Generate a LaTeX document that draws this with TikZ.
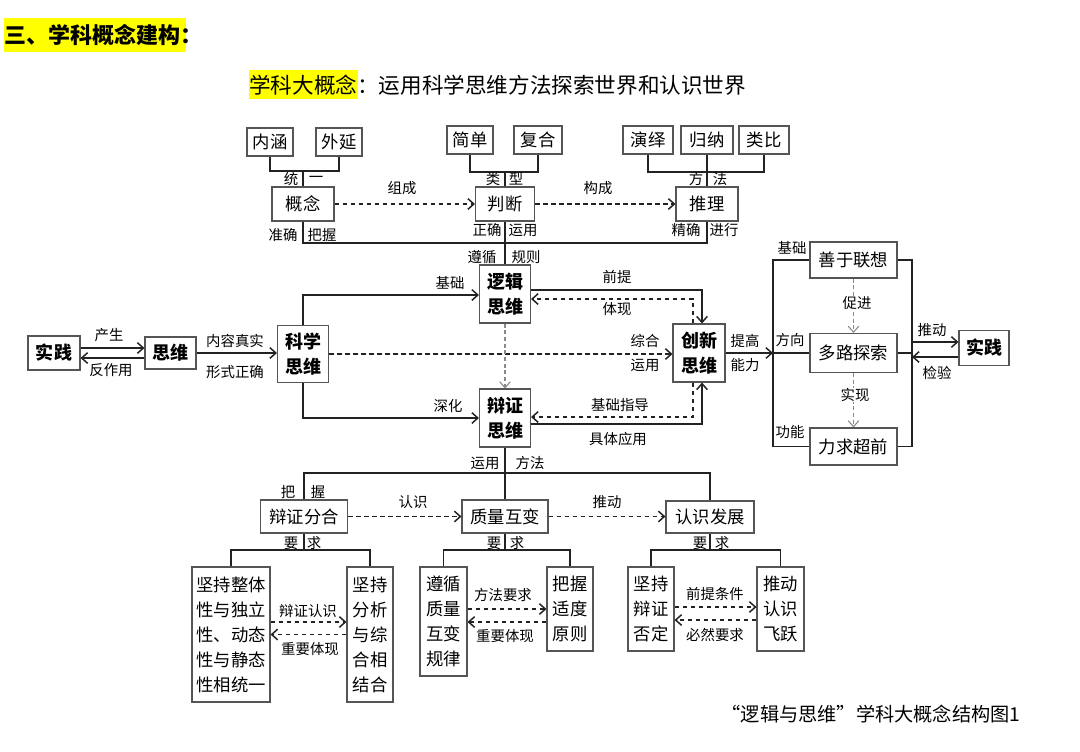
\documentclass[tikz,border=0pt]{standalone}
\usepackage{fontspec}
\setmainfont{Noto Sans CJK SC}
\usetikzlibrary{arrows.meta,calc}
\definecolor{boxc}{HTML}{555555}
\definecolor{lnc}{HTML}{222222}
\definecolor{hl}{HTML}{FFFF00}
\definecolor{gdash}{HTML}{8A8A8A}
\newcommand\bxf{\fontsize{13pt}{18.75pt}\selectfont}
\newcommand\bbf{\fontsize{13.5pt}{18.75pt}\selectfont\bfseries}
\newcommand\lbf{\fontsize{10.8pt}{12pt}\selectfont}
\newcommand\hdf{\fontsize{16.5pt}{18pt}\selectfont\bfseries}
\newcommand\ttlf{\fontsize{16.2pt}{18pt}\selectfont}
\newcommand\capf{\fontsize{14.4pt}{16pt}\selectfont}
\begin{document}
\begin{tikzpicture}[x=0.75pt,y=-0.75pt,
  ln/.style={draw=lnc, line width=1.1pt},
  ar/.style={ln, -{Straight Barb[length=4.5pt,width=8pt]}},
  dar/.style={ar, dash pattern=on 3.5pt off 2.5pt},
  gar/.style={draw=gdash, line width=0.8pt, dash pattern=on 3pt off 2pt, -{Straight Barb[length=4.5pt,width=8pt]}},
  box/.style={draw=boxc, line width=0.8pt, inner sep=0pt, align=center, font=\bxf, fill=white, text=black},
  bbox/.style={box, font=\bbf},
  sz/.style 2 args={minimum width=#1*0.75pt, minimum height=#2*0.75pt},
  lb/.style={inner sep=0.5pt, font=\lbf, text=black},
]
\useasboundingbox[fill=white] (0,0) rectangle (1080,751);

% header and title
\fill[hl] (4,18) rectangle (186,52);
\node[anchor=west, inner sep=0pt, font=\hdf] (hdr) at (4,35) {三、学科概念建构：};
\fill[hl] (249,70) rectangle (358,99);
\node[anchor=west, inner sep=0pt, font=\ttlf] (ttl) at (249,85) {学科大概念：运用科学思维方法探索世界和认识世界};

% top boxes
\node[box, sz={46}{28}] (nh) at (270,142) {内涵};
\node[box, sz={46}{28}] (wy) at (339,142) {外延};
\node[box, sz={46}{28}] (jd) at (470,140) {简单};
\node[box, sz={48}{28}] (fh) at (538,140) {复合};
\node[box, sz={50}{28}] (yy) at (648,140) {演绎};
\node[box, sz={52}{28}] (gna) at (707,140) {归纳};
\node[box, sz={50}{28}] (lbi) at (764,140) {类比};
\node[box, sz={62}{34}] (gn) at (303,204) {概念};
\node[box, sz={59}{34}] (pd) at (505,204) {判断};
\node[box, sz={62}{34}] (tl) at (707,204) {推理};

\coordinate (ta) at (303,171);
\draw[ln] (nh.south) |- (ta) -| (wy.south);
\draw[ln] (ta) -- (gn.north);
\coordinate (tb) at (505,172);
\draw[ln] (jd.south) |- (tb) -| (fh.south);
\draw[ln] (tb) -- (pd.north);
\coordinate (tc) at (707,172);
\draw[ln] (yy.south) |- (tc) -| (lbi.south);
\draw[ln] (gna.south) -- (tl.north);
\draw[dar] (gn) -- (pd);
\draw[dar] (pd) -- (tl);
\coordinate (tm) at (505,243);
\draw[ln] (gn.south) |- (tm) -| (tl.south);

\node[lb] (l1) at (291,179) {统};
\node[lb] (l2) at (316,179) {一};
\node[lb] (l3) at (493,179) {类};
\node[lb] (l4) at (516,179) {型};
\node[lb] (l5) at (696,179) {方};
\node[lb] (l6) at (720,179) {法};
\node[lb] (l7) at (402,188) {组成};
\node[lb] (l8) at (598,188) {构成};
\node[lb] (l9) at (283,235) {准确};
\node[lb] (l10) at (322,235) {把握};
\node[lb] (l11) at (487,230) {正确};
\node[lb] (l12) at (523,230) {运用};
\node[lb] (l13) at (686,230) {精确};
\node[lb] (l14) at (724,230) {进行};
\node[lb] (l15) at (482,257) {遵循};
\node[lb] (l16) at (526,257) {规则};

% middle
\node[bbox, sz={52}{34}] (sj1) at (54,353) {实践};
\node[bbox, sz={51}{32}] (sw) at (170.5,353) {思维};
\node[bbox, sz={51}{57}] (kx) at (303,354) {科学\\思维};
\node[bbox, sz={51}{58}] (lj) at (505,294) {逻辑\\思维};
\node[bbox, sz={51}{58}] (bz) at (505,418) {辩证\\思维};
\node[bbox, sz={52}{58}] (cx) at (699,353) {创新\\思维};
\node[box, sz={87}{36}] (syl) at (853.5,260) {善于联想};
\node[box, sz={87}{39}] (dl) at (853.5,353) {多路探索};
\node[box, sz={87}{37}] (lq) at (853.5,446.5) {力求超前};
\node[bbox, sz={50}{35}] (sj2) at (984,348) {实践};

\draw[ln] (pd.south) -- (lj.north);
\draw[ar] ($(sj1.east)+(0,-5)$) coordinate (p1) -- (p1 -| sw.west);
\draw[ar] ($(sw.west)+(0,5)$) coordinate (p2) -- (p2 -| sj1.east);
\draw[ar] (sw.east) -- (sw.east -| kx.west);
\draw[ar] (kx.north) |- ($(lj.west)+(0,1)$);
\draw[ar] (kx.south) |- (bz.west);
\draw[dar] (kx.east) -- (kx.east -| cx.west);
\draw[ar] ($(lj.east)+(0,-4)$) -| ($(cx.north)+(3,0)$);
\draw[dar] ($(cx.north)+(-6,0)$) |- ($(lj.east)+(0,5)$);
\draw[gar] (lj.south) -- (bz.north);
\draw[dar] ($(cx.south)+(-6,0)$) |- ($(bz.east)+(0,-1)$);
\draw[ar] ($(bz.east)+(0,6)$) -| ($(cx.south)+(3,0)$);

\coordinate (rl) at (773,353);
\coordinate (rr) at (912,353);
\draw[ar] (cx.east) -- (rl);
\draw[ln] (rl) -- (dl.west);
\draw[ln] (syl.west) -- (syl.west -| rl) -- (lq.west -| rl) -- (lq.west);
\draw[ln] (syl.east) -- (syl.east -| rr) -- (lq.east -| rr) -- (lq.east);
\draw[ln] (dl.east) -- (rr);
\draw[ar] ($(rr)+(0,-11)$) coordinate (p3) -- (p3 -| sj2.west);
\draw[ar] ($(sj2.west)+(0,9)$) coordinate (p4) -- (p4 -| rr);
\draw[gar] (syl.south) -- (dl.north);
\draw[gar] (dl.south) -- (lq.north);

\node[lb] (m1) at (109,335) {产生};
\node[lb] (m2) at (111,370) {反作用};
\node[lb] (m3) at (235,341) {内容真实};
\node[lb] (m4) at (235,372) {形式正确};
\node[lb] (m5) at (450,283) {基础};
\node[lb] (m6) at (448,406) {深化};
\node[lb] (m7) at (617,277) {前提};
\node[lb] (m8) at (617,309) {体现};
\node[lb] (m9) at (645,341) {综合};
\node[lb] (m10) at (645,365) {运用};
\node[lb] (m11) at (745,341) {提高};
\node[lb] (m12) at (745,365) {能力};
\node[lb] (m13) at (620,405) {基础指导};
\node[lb] (m14) at (618,439) {具体应用};
\node[lb] (m15) at (792,248) {基础};
\node[lb] (m16) at (790,340) {方向};
\node[lb] (m17) at (790,432) {功能};
\node[lb] (m18) at (932,330) {推动};
\node[lb] (m19) at (937,373) {检验};
\node[lb, fill=white] (m20) at (857,303) {促进};
\node[lb, fill=white] (m21) at (855,395) {实现};
\node[lb] (m22) at (485,463) {运用};
\node[lb] (m23) at (530,463) {方法};

% bottom
\node[box, sz={87}{33}] (bf) at (304,516.5) {辩证分合};
\node[box, sz={86}{33}] (zl) at (505,516.5) {质量互变};
\node[box, sz={88}{32}] (rs) at (710,517) {认识发展};
\coordinate (bm) at (505,473);
\draw[ln] (bz.south) -- (zl.north);
\draw[ln] (bf.north) |- (bm) -| (rs.north);
\draw[dar] (bf.east) -- (zl.west);
\draw[dar] (zl.east) -- (zl.east -| rs.west);

\node[box, sz={78}{135}] (bA) at (231,634.5) {坚持整体\\性与独立\\性、动态\\性与静态\\性相统一};
\node[box, sz={46}{135}] (bB) at (370,634.5) {坚持\\分析\\与综\\合相\\结合};
\node[box, sz={47}{109}] (bC) at (443.5,621.5) {遵循\\质量\\互变\\规律};
\node[box, sz={46}{84}] (bD) at (570,609) {把握\\适度\\原则};
\node[box, sz={46}{84}] (bE) at (651,609) {坚持\\辩证\\否定};
\node[box, sz={47}{84}] (bF) at (780.5,609) {推动\\认识\\飞跃};

\coordinate (s1) at (304,550);
\draw[ln] (bf.south) -- (s1);
\draw[ln] (bA.north) |- (s1) -| (bB.north);
\coordinate (s2) at (505,550);
\draw[ln] (zl.south) -- (s2);
\draw[ln] (bC.north) |- (s2) -| (bD.north);
\coordinate (s3) at (710,550);
\draw[ln] (rs.south) -- (s3);
\draw[ln] (bE.north) |- (s3) -| (bF.north);

\draw[dar] ($(bA.east)+(0,-12.5)$) coordinate (q1) -- (q1 -| bB.west);
\draw[dar] (bB.west) -- (bB.west -| bA.east);
\draw[dar] ($(bC.east)+(0,-12.5)$) coordinate (q2) -- (q2 -| bD.west);
\draw[dar] ($(bD.west)+(0,13)$) coordinate (q3) -- (q3 -| bC.east);
\draw[dar] ($(bE.east)+(0,-2)$) coordinate (q4) -- (q4 -| bF.west);
\draw[dar] ($(bF.west)+(0,11)$) coordinate (q5) -- (q5 -| bE.east);

\node[lb] (n1) at (288,492) {把};
\node[lb] (n2) at (318,492) {握};
\node[lb] (n3) at (413,502) {认识};
\node[lb] (n4) at (607,502) {推动};
\node[lb] (n5) at (291,543) {要};
\node[lb] (n6) at (314,543) {求};
\node[lb] (n7) at (494,543) {要};
\node[lb] (n8) at (517,543) {求};
\node[lb] (n9) at (700,543) {要};
\node[lb] (n10) at (722,543) {求};
\node[lb] (n11) at (308,611) {辩证认识};
\node[lb] (n12) at (310,649) {重要体现};
\node[lb] (n13) at (503,595) {方法要求};
\node[lb] (n14) at (505,636) {重要体现};
\node[lb] (n15) at (715,594) {前提条件};
\node[lb] (n16) at (715,635) {必然要求};

\node[inner sep=0pt, font=\capf] (cap) at (871,714) {“逻辑与思维”学科大概念结构图1};
\end{tikzpicture}
\end{document}
